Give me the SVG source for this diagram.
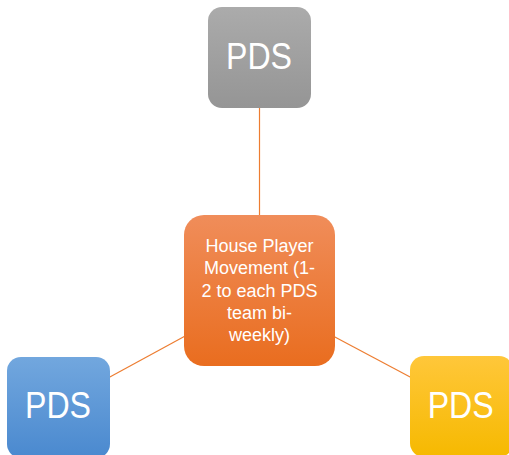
<svg xmlns="http://www.w3.org/2000/svg" width="509" height="455" viewBox="0 0 509 455">
<defs>
<linearGradient id="gGray" x1="0" y1="0" x2="0" y2="1"><stop offset="0" stop-color="#ababab"/><stop offset="1" stop-color="#959595"/></linearGradient>
<linearGradient id="gOrange" x1="0" y1="0" x2="0" y2="1"><stop offset="0" stop-color="#f08d5a"/><stop offset="1" stop-color="#e96d1f"/></linearGradient>
<linearGradient id="gBlue" x1="0" y1="0" x2="0" y2="1"><stop offset="0" stop-color="#72a7de"/><stop offset="1" stop-color="#4a89cf"/></linearGradient>
<linearGradient id="gYellow" x1="0" y1="0" x2="0" y2="1"><stop offset="0" stop-color="#ffc73a"/><stop offset="1" stop-color="#f6b900"/></linearGradient>
<style>
.conn{stroke:#ed7d31;stroke-width:1.2;fill:none}
.pds{font-family:"Liberation Sans",Arial,sans-serif;font-size:36px;fill:#ffffff;text-anchor:middle}
.ctr{font-family:"Liberation Sans",Arial,sans-serif;font-size:18px;fill:#ffffff;text-anchor:middle}
</style>
</defs>
<rect width="509" height="455" fill="#ffffff"/>
<g id="connectors">
<line class="conn" x1="259.5" y1="108" x2="259.5" y2="215"/>
<line class="conn" x1="187" y1="335" x2="108" y2="378"/>
<line class="conn" x1="333" y1="336" x2="412" y2="378"/>
</g>
<g id="node-top">
<rect x="208" y="7" width="103" height="101" rx="14" fill="url(#gGray)"/>
<text class="pds" x="259" y="69" textLength="66" lengthAdjust="spacingAndGlyphs">PDS</text>
</g>
<g id="node-center">
<rect x="184" y="215" width="151" height="151" rx="20" fill="url(#gOrange)"/>
<text class="ctr" x="259.5" y="252">House Player</text>
<text class="ctr" x="259.5" y="274">Movement (1-</text>
<text class="ctr" x="259.5" y="297">2 to each PDS</text>
<text class="ctr" x="259.5" y="319">team bi-</text>
<text class="ctr" x="259.5" y="341">weekly)</text>
</g>
<g id="node-left">
<rect x="7" y="357" width="103" height="101" rx="14" fill="url(#gBlue)"/>
<text class="pds" x="58" y="418" textLength="66" lengthAdjust="spacingAndGlyphs">PDS</text>
</g>
<g id="node-right">
<rect x="410" y="356" width="103" height="101" rx="14" fill="url(#gYellow)"/>
<text class="pds" x="460.7" y="418" textLength="66" lengthAdjust="spacingAndGlyphs">PDS</text>
</g>
</svg>
